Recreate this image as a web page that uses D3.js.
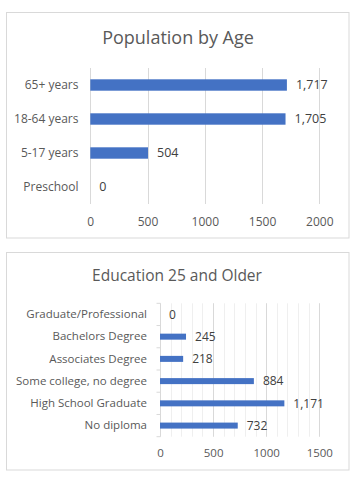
<!DOCTYPE html>
<html>
<head>
<meta charset="utf-8">
<script src="https://cdn.jsdelivr.net/npm/d3@7"></script>
<style>
  html, body { margin: 0; padding: 0; background: #fff; }
  svg { display: block; }
  text { font-family: "Open Sans", "Noto Sans", sans-serif; }
</style>
</head>
<body>
<svg id="chart" width="361" height="481"></svg>
<script>
// ---- Data ----
const ageTitle = "Population by Age";
const ageCategories = ["65+ years", "18-64 years", "5-17 years", "Preschool"];
const ageValues = [1717, 1705, 504, 0];
const ageTicks = [0, 500, 1000, 1500, 2000];

const eduTitle = "Education 25 and Older";
const eduCategories = ["Graduate/Professional", "Bachelors Degree", "Associates Degree",
                       "Some college, no degree", "High School Graduate", "No diploma"];
const eduValues = [0, 245, 218, 884, 1171, 732];
const eduTicks = [0, 500, 1000, 1500];
const eduMinorTicks = d3.range(0, 1501, 100);

const svg = d3.select("#chart");
const fmt = d3.format(",");

function drawChart(cfg) {
  const g = svg.append("g");
  g.append("rect")
    .attr("x", cfg.box[0]).attr("y", cfg.box[1])
    .attr("width", cfg.box[2]).attr("height", cfg.box[3])
    .attr("fill", "#fff").attr("stroke", "#d9d9d9").attr("stroke-width", 1);

  g.append("text")
    .attr("x", cfg.titleX).attr("y", cfg.titleY)
    .attr("text-anchor", "middle")
    .attr("font-size", cfg.titleSize)
    .attr("fill", "#595959")
    .text(cfg.title);

  const x = d3.scaleLinear().domain(cfg.domain).range(cfg.xRange);
  const y = d3.scaleBand().domain(cfg.categories).range(cfg.yRange)
    .paddingInner(cfg.pad).paddingOuter(cfg.pad / 2);

  // minor gridlines
  if (cfg.minor) {
    g.selectAll(".minor").data(cfg.minor).enter().append("line")
      .attr("x1", d => Math.round(x(d)) + 0.5).attr("x2", d => Math.round(x(d)) + 0.5)
      .attr("y1", cfg.yRange[0]).attr("y2", cfg.yRange[1])
      .attr("stroke", "#efefef").attr("stroke-width", 1);
  }
  // major gridlines
  g.selectAll(".major").data(cfg.ticks).enter().append("line")
    .attr("x1", d => Math.round(x(d)) + 0.5).attr("x2", d => Math.round(x(d)) + 0.5)
    .attr("y1", cfg.yRange[0]).attr("y2", cfg.yRange[1])
    .attr("stroke", "#d9d9d9").attr("stroke-width", 1);

  // x axis tick labels
  const xAxis = d3.axisBottom(x).tickValues(cfg.ticks).tickSize(0).tickPadding(0)
    .tickFormat(d3.format("d"));
  const ax = g.append("g").attr("transform", `translate(0,${cfg.tickY})`).call(xAxis);
  ax.select(".domain").remove();
  ax.selectAll("text").attr("font-size", cfg.fontSize).attr("fill", "#595959")
    .attr("dy", "0.35em").style("font-family", '"Open Sans", "Noto Sans", sans-serif');

  // category axis
  const yAxis = d3.axisLeft(y).tickSize(0).tickPadding(0);
  const ay = g.append("g").attr("transform", `translate(${cfg.labelX},0)`).call(yAxis);
  ay.select(".domain").remove();
  ay.selectAll("text").attr("font-size", cfg.fontSize).attr("fill", "#595959")
    .style("font-family", '"Open Sans", "Noto Sans", sans-serif');

  if (cfg.axisTicks) {
    const x0 = Math.round(x(0)) + 0.5;
    const bounds = cfg.categories.map(c => y(c) - y.step() * y.paddingInner() / 2);
    bounds.push(cfg.yRange[1]);
    g.selectAll(".ytick").data(bounds).enter().append("line")
      .attr("x1", x0 - 4).attr("x2", x0)
      .attr("y1", d => d).attr("y2", d => d)
      .attr("stroke", "#d9d9d9");
  }

  // bars
  g.selectAll(".bar").data(cfg.values).enter().append("rect")
    .attr("x", x(0))
    .attr("y", (d, i) => y(cfg.categories[i]))
    .attr("width", d => x(d) - x(0))
    .attr("height", y.bandwidth())
    .attr("fill", "#4472c4");

  // value labels
  g.selectAll(".val").data(cfg.values).enter().append("text")
    .attr("x", d => x(d) + cfg.valGap)
    .attr("y", (d, i) => y(cfg.categories[i]) + y.bandwidth() / 2)
    .attr("dy", "0.35em")
    .attr("font-size", cfg.valSize)
    .attr("fill", "#404040")
    .text(d => fmt(d));
}

drawChart({
  box: [6.5, 12.5, 342.5, 225.5],
  title: ageTitle, titleX: 178, titleY: 44, titleSize: 18,
  categories: ageCategories, values: ageValues,
  domain: [0, 2000], ticks: ageTicks, minor: null,
  xRange: [90.3, 319.3], yRange: [68, 204], pad: 0.665,
  tickY: 221.5, labelX: 78.5, fontSize: 12, valSize: 12.5, valGap: 9, axisTicks: false
});

drawChart({
  box: [6.5, 252.5, 342.5, 217.5],
  title: eduTitle, titleX: 177, titleY: 281, titleSize: 15.5,
  categories: eduCategories, values: eduValues,
  domain: [0, 1500], ticks: eduTicks, minor: eduMinorTicks,
  xRange: [160, 319.3], yRange: [303.3, 436.7], pad: 0.73,
  tickY: 453, labelX: 147, fontSize: 11.5, valSize: 12, valGap: 9, axisTicks: true
});
</script>
</body>
</html>
